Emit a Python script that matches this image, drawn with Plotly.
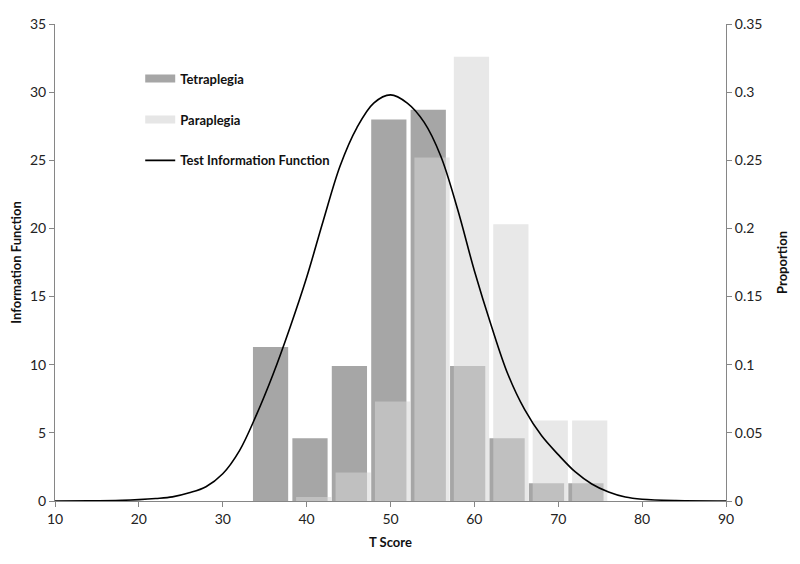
import plotly.graph_objects as go

# ---- data ----
t_bins = [35.7, 40.4, 45.1, 49.8, 54.5, 59.2, 63.9, 68.6, 73.3]
tetraplegia = [0.113, 0.046, 0.099, 0.280, 0.287, 0.099, 0.046, 0.013, 0.013]
paraplegia = [0.0, 0.003, 0.021, 0.073, 0.252, 0.326, 0.203, 0.059, 0.059]

tif_t = [10, 14, 18, 20, 22, 24, 26, 28, 30, 32, 34, 36, 38, 40, 42, 44, 46, 48, 50,
         52, 54, 56, 58, 60, 62, 64, 66, 68, 70, 72, 74, 76, 78, 80, 84, 90]
tif_info = [0.0, 0.01, 0.05, 0.1, 0.18, 0.3, 0.6, 1.05, 2.0, 3.7, 6.3, 9.3, 12.7, 16.4,
            20.6, 24.6, 27.4, 29.2, 29.8, 29.2, 27.8, 25.3, 21.4, 16.9, 12.9, 9.3, 6.7,
            4.8, 3.4, 2.15, 1.25, 0.66, 0.29, 0.13, 0.03, 0.0]

# ---- styles ----
FONT = "Lato, 'Open Sans', sans-serif"
AXIS_COLOR = "#868686"
TETRA_COLOR = "#a6a6a6"
PARA_COLOR = "rgb(213,213,213)"
PARA_SWATCH = "#e6e6e6"
BAR_W = 4.2
PARA_SHIFT = 0.45

fig = go.Figure()
fig.add_trace(go.Bar(
    x=t_bins, y=tetraplegia, name="Tetraplegia", width=BAR_W,
    marker=dict(color=TETRA_COLOR, line=dict(width=0)),
    yaxis="y", showlegend=False))
fig.add_trace(go.Bar(
    x=[v + PARA_SHIFT for v in t_bins], y=paraplegia, name="Paraplegia", width=BAR_W,
    marker=dict(color=PARA_COLOR, opacity=0.55, line=dict(width=0)),
    yaxis="y", showlegend=False))
fig.add_trace(go.Scatter(
    x=tif_t, y=tif_info, name="Test Information Function", mode="lines",
    line=dict(color="black", width=1.6, shape="spline", smoothing=1.0),
    yaxis="y2", legendgroup="c"))

# legend-only entries (wide swatches like the original legend)
fig.add_trace(go.Scatter(x=[None], y=[None], mode="lines", name="Tetraplegia",
                         line=dict(color=TETRA_COLOR, width=8), legendgroup="a",
                         legendrank=1, yaxis="y2"))
fig.add_trace(go.Scatter(x=[None], y=[None], mode="lines", name="Paraplegia",
                         line=dict(color=PARA_SWATCH, width=8), legendgroup="b",
                         legendrank=2, yaxis="y2"))
fig.data[2].legendrank = 3

# the page body adds an 8px offset, so margins are compensated
fig.update_layout(
    width=800, height=564,
    margin=dict(l=47, r=82, t=16, b=71),
    paper_bgcolor="white", plot_bgcolor="white",
    barmode="overlay",
    font=dict(family=FONT, size=14, color="#222"),
    showlegend=True,
    legend=dict(x=0.127, y=0.917, xanchor="left", yanchor="top",
                bgcolor="rgba(0,0,0,0)", tracegroupgap=21, traceorder="grouped",
                font=dict(size=13, color="#111", family=FONT, weight="bold")),
    xaxis=dict(range=[10, 90], dtick=10, tick0=10, showgrid=False, zeroline=False,
               showline=True, linecolor=AXIS_COLOR, linewidth=1, automargin=False,
               ticks="outside", ticklen=5, tickcolor=AXIS_COLOR,
               title=dict(text="<b>T Score</b>", font=dict(size=13, color="#111"), standoff=12)),
    yaxis=dict(range=[0, 0.35], dtick=0.05, side="right", showgrid=False, zeroline=False,
               showline=True, linecolor=AXIS_COLOR, linewidth=1, automargin=False,
               ticks="outside", ticklen=5, tickcolor=AXIS_COLOR, tickformat="~g",
               title=dict(text="<b>Proportion</b>", font=dict(size=13, color="#111"), standoff=16)),
    yaxis2=dict(range=[0, 35], dtick=5, side="left", overlaying="y", showgrid=False,
                zeroline=False, showline=True, linecolor=AXIS_COLOR, linewidth=1,
                automargin=False, ticks="outside", ticklen=5, tickcolor=AXIS_COLOR,
                title=dict(text="<b>Information Function</b>", font=dict(size=13, color="#111"), standoff=8)),
)

fig.write_html("out.html")
